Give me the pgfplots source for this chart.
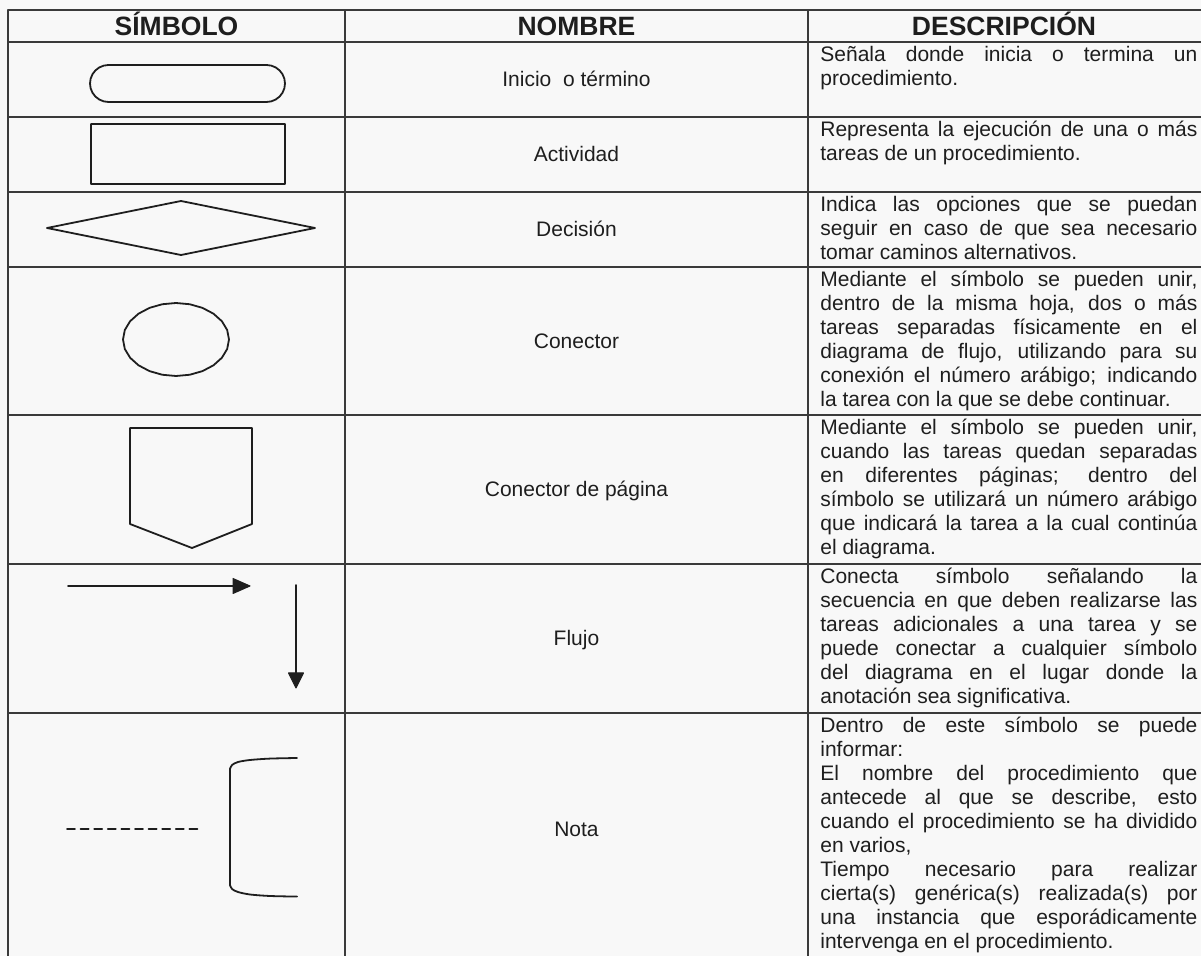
\documentclass[border=0pt]{standalone}
\usepackage{fontspec}
\setmainfont{Liberation Sans}
\usepackage{pgfplots}
\pgfplotsset{compat=1.18}
\definecolor{ink}{HTML}{1E1E1E}
\definecolor{rule}{HTML}{3A3A3A}
\definecolor{paper}{HTML}{F8F8F8}
\newcommand\J[1]{\makebox[188.5pt][s]{#1}}
\newcommand\D[1]{\parbox[t]{188.5pt}{\fontsize{10.5pt}{12pt}\selectfont\leavevmode#1}}
\begin{document}
\begin{tikzpicture}
\begin{axis}[x=0.5pt,y=0.5pt,y dir=reverse,xmin=0,xmax=1201,ymin=0,ymax=956,
  hide axis,clip=true,
  every axis plot/.append style={line join=round,line cap=round}]
% paper
\addplot[fill=paper,draw=none] coordinates {(0,0)(1201,0)(1201,956)(0,956)(0,0)};
% horizontal rules
\addplot[rule,line width=0.8pt] coordinates {(8,10)(1201,10)};
\addplot[rule,line width=0.8pt] coordinates {(8,42)(1201,42)};
\addplot[rule,line width=0.8pt] coordinates {(8,117)(1201,117)};
\addplot[rule,line width=0.8pt] coordinates {(8,192)(1201,192)};
\addplot[rule,line width=0.8pt] coordinates {(8,267)(1201,267)};
\addplot[rule,line width=0.8pt] coordinates {(8,415)(1201,415)};
\addplot[rule,line width=0.8pt] coordinates {(8,564)(1201,564)};
\addplot[rule,line width=0.8pt] coordinates {(8,713)(1201,713)};
% vertical rules
\addplot[rule,line width=0.8pt] coordinates {(8,10)(8,956)};
\addplot[rule,line width=0.8pt] coordinates {(345,10)(345,956)};
\addplot[rule,line width=0.8pt] coordinates {(808,10)(808,956)};
% start / end (stadium)
\addplot[ink,line width=0.9pt] coordinates {
 (108.5,65)(266.5,65)(271.29,65.63)(275.75,67.48)(279.58,70.42)(282.52,74.25)(284.37,78.71)(285,83.5)
 (284.37,88.29)(282.52,92.75)(279.58,96.58)(275.75,99.52)(271.29,101.37)(266.5,102)
 (108.5,102)(103.71,101.37)(99.25,99.52)(95.42,96.58)(92.48,92.75)(90.63,88.29)(90,83.5)
 (90.63,78.71)(92.48,74.25)(95.42,70.42)(99.25,67.48)(103.71,65.63)(108.5,65)};
% activity
\addplot[ink,line width=0.9pt] coordinates {(91,124)(285,124)(285,184)(91,184)(91,124)};
% decision
\addplot[ink,line width=0.9pt] coordinates {(47,228)(181,201)(315,228)(181,255)(47,228)};
% connector (ellipse)
\addplot[ink,line width=0.9pt] coordinates {
 (229,339.5)(227.19,348.95)(221.90,357.75)(213.48,365.31)(202.5,371.11)(189.72,374.76)(176,376)
 (162.28,374.76)(149.5,371.11)(138.52,365.31)(130.10,357.75)(124.81,348.95)(123,339.5)
 (124.81,330.05)(130.10,321.25)(138.52,313.69)(149.5,307.89)(162.28,304.24)(176,303)
 (189.72,304.24)(202.5,307.89)(213.48,313.69)(221.90,321.25)(227.19,330.05)(229,339.5)};
% off-page connector
\addplot[ink,line width=0.9pt] coordinates {(130,428)(252,428)(252,524)(192,548)(130,524)(130,428)};
% flow arrows
\addplot[ink,line width=0.9pt] coordinates {(68,586)(236,586)};
\addplot[fill=ink,draw=ink,line width=0.5pt] coordinates {(233,578.5)(250,586)(233,593.5)(233,578.5)};
\addplot[ink,line width=0.9pt] coordinates {(296,585)(296,676)};
\addplot[fill=ink,draw=ink,line width=0.5pt] coordinates {(288.5,673)(303.5,673)(296,688)(288.5,673)};
% note
\addplot[ink,line width=0.9pt,dash pattern=on 4pt off 2.8pt] coordinates {(67,829)(202,829)};
\addplot[ink,line width=0.9pt,smooth] coordinates {(297,758)(270,758.6)(250,760)(238,762)(232,765)(230,769)};
\addplot[ink,line width=0.9pt] coordinates {(230,769)(230,885)};
\addplot[ink,line width=0.9pt,smooth] coordinates {(230,885)(232,889)(238,892)(250,894.5)(270,896)(297,896.6)};
% headers
\node[anchor=base,inner sep=0,text=ink,font=\fontsize{13.25pt}{15pt}\selectfont\bfseries] at (axis cs:176.5,35.5) {SÍMBOLO};
\node[anchor=base,inner sep=0,text=ink,font=\fontsize{13.25pt}{15pt}\selectfont\bfseries] at (axis cs:576.5,35.5) {NOMBRE};
\node[anchor=base,inner sep=0,text=ink,font=\fontsize{13.25pt}{15pt}\selectfont\bfseries] at (axis cs:1004,35.5) {DESCRIPCIÓN};
% names
\node[anchor=base,inner sep=0,text=ink,font=\fontsize{10.5pt}{12pt}\selectfont] at (axis cs:576.5,87) {Inicio\ \ o término};
\node[anchor=base,inner sep=0,text=ink,font=\fontsize{10.5pt}{12pt}\selectfont] at (axis cs:576.5,162) {Actividad};
\node[anchor=base,inner sep=0,text=ink,font=\fontsize{10.5pt}{12pt}\selectfont] at (axis cs:576.5,237) {Decisión};
\node[anchor=base,inner sep=0,text=ink,font=\fontsize{10.5pt}{12pt}\selectfont] at (axis cs:576.5,348.5) {Conector};
\node[anchor=base,inner sep=0,text=ink,font=\fontsize{10.5pt}{12pt}\selectfont] at (axis cs:576.5,497) {Conector de página};
\node[anchor=base,inner sep=0,text=ink,font=\fontsize{10.5pt}{12pt}\selectfont] at (axis cs:576.5,646) {Flujo};
\node[anchor=base,inner sep=0,text=ink,font=\fontsize{10.5pt}{12pt}\selectfont] at (axis cs:576.5,836.5) {Nota};
% descriptions
\node[anchor=base west,inner sep=0,text=ink] at (axis cs:820,62) {\D{\J{Señala donde inicia o termina un}\\procedimiento.}};
\node[anchor=base west,inner sep=0,text=ink] at (axis cs:820,137) {\D{\J{Representa la ejecución de una o más}\\tareas de un procedimiento.}};
\node[anchor=base west,inner sep=0,text=ink] at (axis cs:820,212) {\D{\J{Indica las opciones que se puedan}\\\J{seguir en caso de que sea necesario}\\tomar caminos alternativos.}};
\node[anchor=base west,inner sep=0,text=ink] at (axis cs:820,287) {\D{\J{Mediante el símbolo se pueden unir,}\\\J{dentro de la misma hoja, dos o más}\\\J{tareas separadas físicamente en el}\\\J{diagrama de flujo, utilizando para su}\\\J{conexión el número arábigo; indicando}\\la tarea con la que se debe continuar.}};
\node[anchor=base west,inner sep=0,text=ink] at (axis cs:820,435) {\D{\J{Mediante el símbolo se pueden unir,}\\\J{cuando las tareas quedan separadas}\\\J{en diferentes páginas; dentro del}\\\J{símbolo se utilizará un número arábigo}\\\J{que indicará la tarea a la cual continúa}\\el diagrama.}};
\node[anchor=base west,inner sep=0,text=ink] at (axis cs:820,584) {\D{\J{Conecta símbolo señalando la}\\\J{secuencia en que deben realizarse las}\\\J{tareas adicionales a una tarea y se}\\\J{puede conectar a cualquier símbolo}\\\J{del diagrama en el lugar donde la}\\anotación sea significativa.}};
\node[anchor=base west,inner sep=0,text=ink] at (axis cs:820,733) {\D{\J{Dentro de este símbolo se puede}\\informar:\\\J{El nombre del procedimiento que}\\\J{antecede al que se describe, esto}\\\J{cuando el procedimiento se ha dividido}\\en varios,\\\J{Tiempo necesario para realizar}\\\J{cierta(s) genérica(s) realizada(s) por}\\\J{una instancia que esporádicamente}\\intervenga en el procedimiento.}};
\end{axis}
\pgfresetboundingbox
\path[use as bounding box] (current axis.south west) rectangle (current axis.north east);
\end{tikzpicture}
\end{document}
